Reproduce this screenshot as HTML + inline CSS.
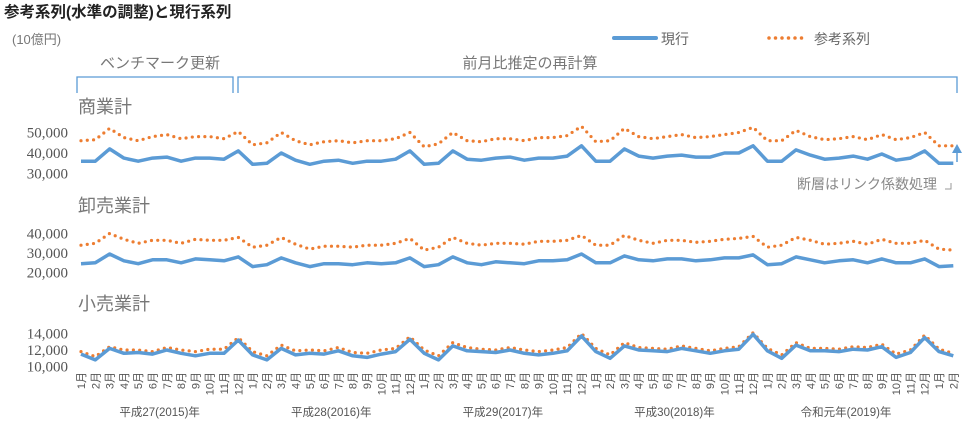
<!DOCTYPE html>
<html><head><meta charset="utf-8">
<style>
body{margin:0;background:#fff;}
svg{display:block;font-family:"Liberation Sans","Noto Sans CJK JP",sans-serif;}
</style></head>
<body>
<svg id="chart" width="974" height="422" viewBox="0 0 974 422">
  <text x="4" y="17" font-size="15.5" font-weight="bold" fill="#222">参考系列(水準の調整)と現行系列</text>
  <text x="12" y="44" font-size="13" fill="#777">(10億円)</text>
  <g>
    <line x1="614" y1="38" x2="656" y2="38" stroke="#5b9bd5" stroke-width="4" stroke-linecap="round"/>
    <text x="661" y="44" font-size="14" fill="#666">現行</text>
    <line x1="769" y1="38" x2="806" y2="38" stroke="#ed7d31" stroke-width="3.5" stroke-linecap="round" stroke-dasharray="0 6.5"/>
    <text x="814" y="44" font-size="14" fill="#666">参考系列</text>
  </g>
  <text x="160" y="68" font-size="15" fill="#777" text-anchor="middle">ベンチマーク更新</text>
  <path d="M77,93 V77 H233 V93" fill="none" stroke="#5b9bd5" stroke-width="1.3"/>
  <text x="530" y="68" font-size="15" fill="#777" text-anchor="middle">前月比推定の再計算</text>
  <path d="M238,93 V77 H957 V93" fill="none" stroke="#5b9bd5" stroke-width="1.3"/>
  <text x="78" y="113" font-size="18" fill="#777">商業計</text>
  <text x="78" y="212" font-size="18" fill="#777">卸売業計</text>
  <text x="78" y="310" font-size="18" fill="#777">小売業計</text>
  <text x="937" y="189" font-size="14" fill="#888" text-anchor="end">断層はリンク係数処理</text>
  <path d="M945,189 H951 V183" fill="none" stroke="#999" stroke-width="1"/>
  <line x1="957" y1="162" x2="957" y2="150" stroke="#5b9bd5" stroke-width="1.5"/>
  <path d="M952,153 L957,144 L962,153 Z" fill="#5b9bd5"/>
  <g id="plots"></g>
  <g id="xaxis"></g>
</svg>
<script>
const months = ["1月","2月","3月","4月","5月","6月","7月","8月","9月","10月","11月","12月"];
const yearLabels = ["平成27(2015)年","平成28(2016)年","平成29(2017)年","平成30(2018)年","令和元年(2019)年"];
const commerceCurrent = [36,36,42,37.5,36,37.5,38,36,37.5,37.5,37,41, 34.5,35,40,36.5,34.5,36,36.5,35,36,36,37,41, 34.5,35,41,37,36.5,37.5,38,36.5,37.5,37.5,38.5,43.5, 36,36,42,38.5,37.5,38.5,39,38,38,40,40,43.5, 36,36,41.5,39,37,37.5,38.5,37,39.5,36.5,37.5,41, 35,35];
const commerceRef = [46,46.5,52,47.5,46,48,49,47,48,48,47,50.5, 44,45,50,46,44,45.5,46,45,46,46,47,50, 43,44.5,50,46,45.5,47,47,46,47.5,47.5,48.5,53, 45.5,46,52,48,47,48,49,47.5,48,49,50,52.5, 46,46,51,48,46.5,47,48,46.5,49,46.5,47.5,50, 43.5,43.5];
const wholesaleCurrent = [24.5,25,29.5,26,24.5,26.5,26.5,25,27,26.5,26,28, 23,24,27.5,25,23,24.5,24.5,24,25,24.5,25,27.5, 23,24,28,25,24,25.5,25,24.5,26,26,26.5,29.5, 25,25,28.5,26.5,26,27,27,26,26.5,27.5,27.5,29, 24,24.5,28,26.5,25,26,26.5,25,27,25,25,27, 23,23.5];
const wholesaleRef = [34,35,40,37,35,36.5,36.5,35,37,36.5,36.5,38, 33,34,38,34.5,32,33.5,33.5,33,34,34,35,37.5, 31.5,33,38,35,34,35,35,34.5,36,36,36.5,39, 34,34,39,36.5,35,36.5,36.5,35.5,36,37,37.5,38.5, 33,34,38,36.5,34.5,35,36,34.5,37,35,35,36.5, 32,31.5];
const retailCurrent = [11.5,10.8,12.2,11.6,11.7,11.5,12.0,11.6,11.3,11.6,11.6,13.2, 11.4,10.8,12.2,11.4,11.6,11.5,11.9,11.3,11.1,11.5,11.8,13.3, 11.6,10.8,12.5,11.9,11.8,11.7,12.0,11.6,11.4,11.6,11.9,13.7, 11.8,11.0,12.5,12.0,11.9,11.8,12.2,11.9,11.6,11.9,12.1,13.9, 11.9,11.0,12.6,11.9,11.9,11.8,12.1,12.0,12.4,11.1,11.7,13.5, 11.8,11.3];
const retailRef = [11.8,11.2,12.4,12.0,12.0,11.8,12.3,12.0,11.8,12.1,12.1,13.5, 11.8,11.3,12.6,11.9,12.0,11.9,12.3,11.7,11.6,12.0,12.2,13.6, 12.0,11.3,12.9,12.3,12.1,12.0,12.3,12.0,11.8,12.0,12.3,14.0, 12.2,11.4,12.9,12.3,12.2,12.1,12.5,12.2,11.9,12.2,12.4,14.1, 12.2,11.4,12.9,12.2,12.2,12.1,12.4,12.3,12.7,11.5,12.0,13.8, 12.1,11.6];
const commerceTicks = [50000,40000,30000];
const wholesaleTicks = [40000,30000,20000];
const retailTicks = [14000,12000,10000];

const NS="http://www.w3.org/2000/svg";
const plots=document.getElementById('plots');
const xaxis=document.getElementById('xaxis');
function x(i){return 81+i*14.3;}
function mk(tag,attrs,parent){const e=document.createElementNS(NS,tag);for(const k in attrs)e.setAttribute(k,attrs[k]);parent.appendChild(e);return e;}
const panels=[
 {name:'commerce',cur:commerceCurrent,ref:commerceRef,ticks:commerceTicks,v0:40,y0:153,pxPer:2.05},
 {name:'wholesale',cur:wholesaleCurrent,ref:wholesaleRef,ticks:wholesaleTicks,v0:30,y0:253,pxPer:1.95},
 {name:'retail',cur:retailCurrent,ref:retailRef,ticks:retailTicks,v0:12,y0:350,pxPer:8.25}
];
panels.forEach(p=>{
  const Y=v=>p.y0-(v-p.v0)*p.pxPer;
  p.ticks.forEach(t=>{
    const tx=mk('text',{x:68,y:Y(t/1000)+5,'font-size':15,fill:'#555','text-anchor':'end','font-family':'"Liberation Serif",serif'},plots);
    
    
    tx.textContent=t.toLocaleString('en-US');
  });
  const ptsRef=p.ref.map((v,i)=>x(i).toFixed(1)+','+Y(v).toFixed(1)).join(' ');
  const l2=mk('polyline',{points:ptsRef,fill:'none',stroke:'#ed7d31','stroke-width':3.2,'stroke-linecap':'round','stroke-dasharray':'0 6.3'},plots);
  
  
  const ptsCur=p.cur.map((v,i)=>x(i).toFixed(1)+','+Y(v).toFixed(1)).join(' ');
  const l1=mk('polyline',{points:ptsCur,fill:'none',stroke:'#5b9bd5','stroke-width':3.5,'stroke-linejoin':'round'},plots);
  
  
});
for(let i=0;i<62;i++){
  const t=mk('text',{'font-size':11,fill:'#555','text-anchor':'end',transform:'translate('+(x(i)+4)+',372) rotate(-90)'},xaxis);
  
  
  t.textContent=months[i%12];
}
yearLabels.forEach((lab,k)=>{
  const t=mk('text',{x:x(k*12+5.5),y:416,'font-size':11.5,fill:'#555','text-anchor':'middle'},xaxis);
  
  
  t.textContent=lab;
});
</script>
</body></html>
